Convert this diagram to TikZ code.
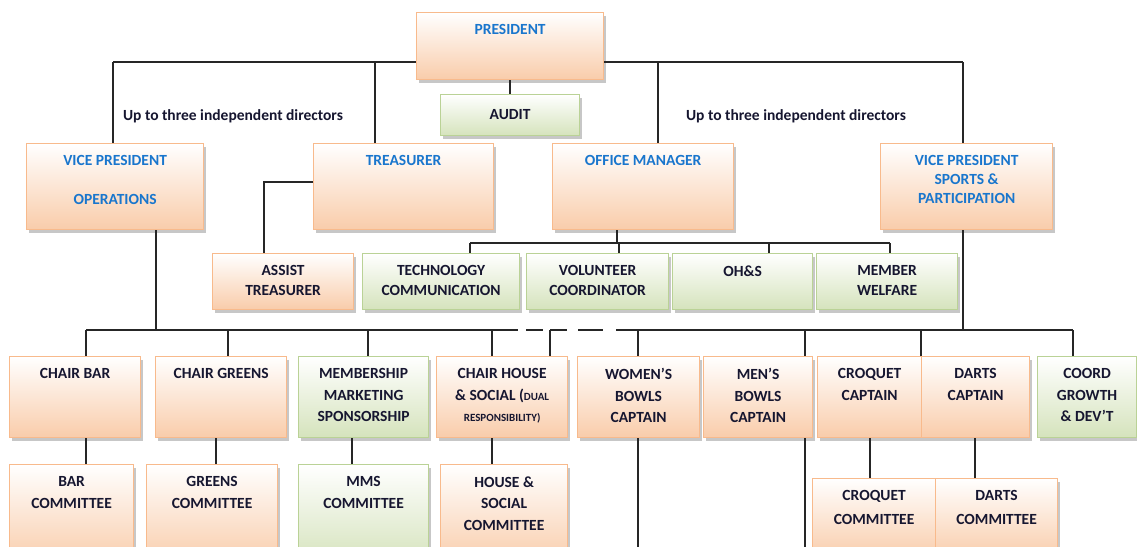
\documentclass[tikz,border=0pt]{standalone}
\usepackage{fontspec}
\setmainfont{Carlito}
\usetikzlibrary{shadows}

\definecolor{peach}{RGB}{249,204,170}
\definecolor{peachline}{RGB}{248,186,140}
\definecolor{leaf}{RGB}{213,227,188}
\definecolor{leafline}{RGB}{186,210,150}
\definecolor{headblue}{RGB}{25,118,205}
\definecolor{ink}{RGB}{22,22,48}

\tikzset{
  link/.style={line width=1.8pt, black!85},
  obox/.style={draw=peachline, line width=1.2pt, top color=white, bottom color=peach,
    inner sep=0pt, anchor=north west,
    drop shadow={shadow xshift=2.5pt, shadow yshift=-3.5pt, fill=black!40, opacity=.55}},
  gbox/.style={obox, draw=leafline, bottom color=leaf},
  ttl/.style={anchor=north, yshift=-12.5pt, inner sep=0pt, align=center, text=ink,
    font=\fontsize{15.5}{21.5}\selectfont\bfseries},
  headtxt/.style={text=headblue},
  note/.style={inner sep=0pt, text=ink, font=\fontsize{15.5}{17}\selectfont\bfseries},
}
\newcommand{\smalltxt}{\fontsize{11}{12}\selectfont}

\begin{document}
\begin{tikzpicture}[x=1pt, y=-1pt]
  \useasboundingbox (0,0) rectangle (1137,546);
  \fill[white] (0,0) rectangle (1137,546);
  \clip (0,0) rectangle (1137,546);

  % top
  \node[obox, minimum width=187pt, minimum height=67pt, label={[ttl,headtxt]north:PRESIDENT}] (pres) at (416,12) {};
  \node[gbox, minimum width=139pt, minimum height=41pt, label={[ttl,yshift=-3pt]north:AUDIT}] (audit) at (440,94) {};
  \node[note] (dirL) at (233,116) {Up to three independent directors};
  \node[note] (dirR) at (796,116) {Up to three independent directors};

  % second level
  \node[obox, minimum width=177pt, minimum height=86pt, label={[ttl,headtxt]north:{VICE PRESIDENT\\[17pt]OPERATIONS}}] (vpops) at (26,143) {};
  \node[obox, minimum width=180pt, minimum height=86pt, label={[ttl,headtxt]north:TREASURER}] (tres) at (313,143) {};
  \node[obox, minimum width=181pt, minimum height=86pt, label={[ttl,headtxt]north:OFFICE MANAGER}] (offm) at (552,143) {};
  \node[obox, minimum width=172pt, minimum height=86pt, label={[ttl,headtxt]north:{VICE PRESIDENT\\[-2.5pt]SPORTS \&\\[-2.5pt]PARTICIPATION}}] (vpsp) at (880,143) {};

  % office row
  \node[obox, minimum width=141pt, minimum height=56pt, label={[ttl]north:{ASSIST\\[-1.5pt]TREASURER}}] (assist) at (212,253) {};
  \node[gbox, minimum width=157pt, minimum height=56pt, label={[ttl]north:{TECHNOLOGY\\[-1.5pt]COMMUNICATION}}] (tech) at (362,253) {};
  \node[gbox, minimum width=142pt, minimum height=56pt, label={[ttl]north:{VOLUNTEER\\[-1.5pt]COORDINATOR}}] (volc) at (526,253) {};
  \node[gbox, minimum width=140pt, minimum height=56pt, label={[ttl]north:OH\&S}] (ohs) at (672,253) {};
  \node[gbox, minimum width=141pt, minimum height=56pt, label={[ttl]north:{MEMBER\\[-1.5pt]WELFARE}}] (memw) at (816,253) {};

  % chairs and captains
  \node[obox, minimum width=131pt, minimum height=81pt, label={[ttl]north:CHAIR BAR}] (chbar) at (9,356) {};
  \node[obox, minimum width=131pt, minimum height=81pt, label={[ttl]north:CHAIR GREENS}] (chgr) at (155,356) {};
  \node[gbox, minimum width=130pt, minimum height=81pt, label={[ttl]north:{MEMBERSHIP\\MARKETING\\SPONSORSHIP}}] (memb) at (298,356) {};
  \node[obox, minimum width=131pt, minimum height=81pt, label={[ttl]north:{CHAIR HOUSE\\\& SOCIAL ({\smalltxt DUAL}\\{\smalltxt RESPONSIBILITY)}}}] (chhs) at (436,356) {};
  \node[obox, minimum width=122pt, minimum height=81pt, label={[ttl]north:{WOMEN'S\\BOWLS\\CAPTAIN}}] (women) at (577,356) {};
  \node[obox, minimum width=109pt, minimum height=81pt, label={[ttl]north:{MEN'S\\BOWLS\\CAPTAIN}}] (men) at (703,356) {};
  \node[obox, minimum width=104pt, minimum height=81pt, label={[ttl]north:{CROQUET\\CAPTAIN}}] (croq) at (817,356) {};
  \node[obox, minimum width=108pt, minimum height=81pt, label={[ttl]north:{DARTS\\CAPTAIN}}] (darts) at (921,356) {};
  \node[gbox, minimum width=99pt, minimum height=81pt, label={[ttl]north:{COORD\\GROWTH\\\& DEV'T}}] (coord) at (1037,356) {};

  % committees
  \node[obox, minimum width=124pt, minimum height=100pt, label={[ttl]north:{BAR\\COMMITTEE}}] (barc) at (9,464) {};
  \node[obox, minimum width=131pt, minimum height=100pt, label={[ttl]north:{GREENS\\COMMITTEE}}] (grc) at (146,464) {};
  \node[gbox, minimum width=130pt, minimum height=100pt, label={[ttl]north:{MMS\\COMMITTEE}}] (mmsc) at (298,464) {};
  \node[obox, minimum width=127pt, minimum height=100pt, label={[ttl]north:{HOUSE \&\\SOCIAL\\COMMITTEE}}] (hsc) at (440,464) {};
  \node[obox, minimum width=123pt, minimum height=80pt, label={[ttl]north:{CROQUET\\[2.5pt]COMMITTEE}}] (croqc) at (812,478) {};
  \node[obox, minimum width=122pt, minimum height=80pt, label={[ttl]north:{DARTS\\[2.5pt]COMMITTEE}}] (dartsc) at (935,478) {};

  % links from the president
  \coordinate (tl) at (113,62);
  \coordinate (tr) at (963,62);
  \draw[link] (tl) -- (pres.west |- tl);
  \draw[link] (pres.east |- tl) -- (tr);
  \draw[link] (tl) -- (tl |- vpops.north);
  \draw[link] (tr) -- (tr |- vpsp.north);
  \foreach \x/\n in {375/tres, 658/offm}
    \draw[link] (\x,62) -- (\n.north -| \x,0);
  \draw[link] (pres.south) -- (audit.north);

  % treasurer and office manager
  \coordinate (ta) at (264,182);
  \draw[link] (tres.west |- ta) -- (ta) -- (ta |- assist.north);
  \coordinate (om) at (617,243);
  \draw[link] (offm.south -| om) -- (om);
  \draw[link] (470,243) -- (890,243);
  \foreach \x/\n in {470/tech, 619/volc, 769/ohs, 890/memw}
    \draw[link] (\x,243) -- (\n.north -| \x,0);

  % lower bar
  \coordinate (ops) at (156,330);
  \coordinate (spt) at (963,330);
  \draw[link] (vpops.south -| ops) -- (ops);
  \draw[link] (vpsp.south -| spt) -- (spt);
  \draw[link] (86,330) -- (518,330);
  \draw[link, dash pattern=on 17pt off 7pt on 17pt off 11pt on 25pt off 30pt] (526,330) -- (603,330);
  \draw[link] (616,330) -- (1073,330);
  \foreach \x/\n in {86/chbar, 228/chgr, 368/memb, 492/chhs, 550/chhs, 638/women, 805/men, 921/croq, 1073/coord}
    \draw[link] (\x,330) -- (\n.north -| \x,0);

  % down to committees
  \foreach \x/\a/\b in {86/chbar/barc, 216/chgr/grc, 352/memb/mmsc, 492/chhs/hsc, 870/croq/croqc, 975/darts/dartsc}
    \draw[link] (\a.south -| \x,0) -- (\b.north -| \x,0);
  \foreach \x/\n in {638/women, 805/men}
    \draw[link] (\n.south -| \x,0) -- (\x,560);
\end{tikzpicture}
\end{document}
